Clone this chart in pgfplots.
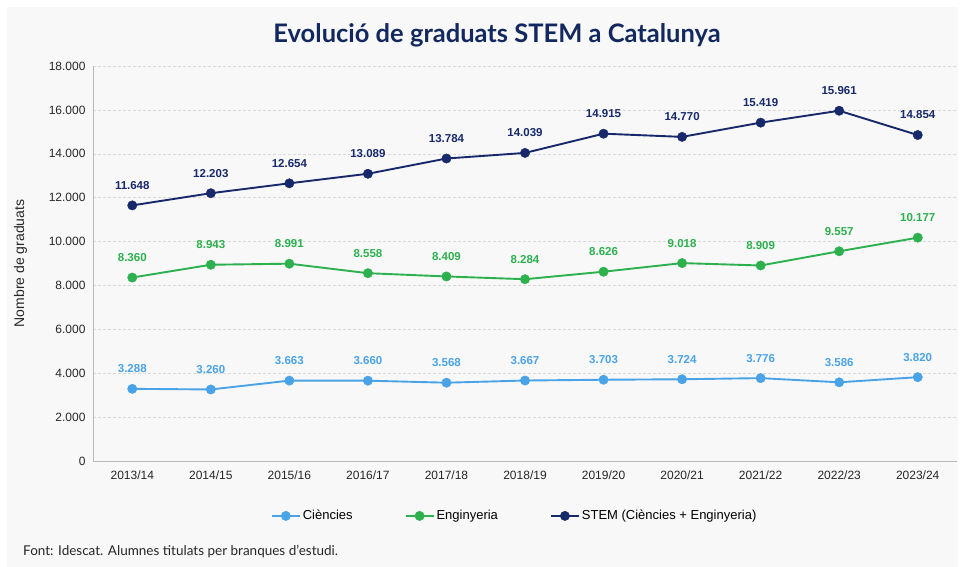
\documentclass[border=0pt]{standalone}
\usepackage{pgfplots}
\pgfplotsset{compat=1.18}
\usepackage{fontspec}
\setmainfont{Liberation Sans}
\newfontfamily\titlefont{Lato}
\definecolor{bgc}{HTML}{F8F8F8}
\definecolor{cien}{HTML}{4AA3E6}
\definecolor{engi}{HTML}{2DB04E}
\definecolor{stem}{HTML}{17296A}
\definecolor{ttl}{HTML}{13285E}
\begin{document}
\begin{tikzpicture}[x=1pt,y=1pt]
\fill[white] (0,0) rectangle (963,567);
\fill[bgc] (7,0) rectangle (958,560);
\begin{axis}[
  at={(93pt,106pt)}, anchor=south west,
  scale only axis, width=864pt, height=395pt,
  xmin=-0.5, xmax=10.5, ymin=0, ymax=18000,
  xtick={0,...,10},
  xticklabels={2013/14,2014/15,2015/16,2016/17,2017/18,2018/19,2019/20,2020/21,2021/22,2022/23,2023/24},
  ytick={0,2000,...,18000},
  scaled y ticks=false,
  yticklabel style={/pgf/number format/fixed, /pgf/number format/precision=0},
  axis lines*=left,
  axis line style={gray!55, line width=0.8pt},
  major tick length=0pt,
  ymajorgrids,
  major grid style={densely dashed, gray!30, line width=0.5pt},
  /pgf/number format/1000 sep={.},
  /pgf/number format/assume math mode=true,
  ticklabel style={font=\fontsize{12}{14}\selectfont, text=black!85},
  xticklabel style={yshift=-6pt},
  yticklabel style={xshift=-4pt},
  ylabel={Nombre de graduats},
  every axis y label/.style={at={(axis description cs:-0.084,0.5)}, rotate=90, anchor=center, font=\fontsize{14}{16}\selectfont, text=black!85},
  nodes near coords,
  nodes near coords style={font=\bfseries\fontsize{11.5}{13}\selectfont, anchor=center, yshift=20pt},
  legend columns=3,
  legend style={at={(0.488,-0.139)}, anchor=center, draw=none, fill=none,
    font=\fontsize{13}{15}\selectfont,
    /tikz/every even column/.append style={column sep=50pt}},
  legend image code/.code={\draw[mark repeat=2,mark phase=2] plot coordinates {(0pt,0pt) (14pt,0pt) (28pt,0pt)};},
]
\addplot[color=cien, line width=1.9pt, mark=*, mark size=4.7pt, mark options={line width=0.4pt}, nodes near coords style={text=cien}] coordinates {
(0,3288) (1,3260) (2,3663) (3,3660) (4,3568) (5,3667) (6,3703) (7,3724) (8,3776) (9,3586) (10,3820)};
\addlegendentry{Ciències}
\addplot[color=engi, line width=1.9pt, mark=*, mark size=4.7pt, mark options={line width=0.4pt}, nodes near coords style={text=engi}] coordinates {
(0,8360) (1,8943) (2,8991) (3,8558) (4,8409) (5,8284) (6,8626) (7,9018) (8,8909) (9,9557) (10,10177)};
\addlegendentry{Enginyeria}
\addplot[color=stem, line width=1.9pt, mark=*, mark size=4.7pt, mark options={line width=0.4pt}, nodes near coords style={text=stem}] coordinates {
(0,11648) (1,12203) (2,12654) (3,13089) (4,13784) (5,14039) (6,14915) (7,14770) (8,15419) (9,15961) (10,14854)};
\addlegendentry{STEM (Ciències + Enginyeria)}
\end{axis}
\node[font=\titlefont\bfseries\fontsize{25.5}{30}\selectfont, text=ttl] at (497,532) {Evolució de graduats STEM a Catalunya};
\node[anchor=west, font=\titlefont\fontsize{13.5}{16}\selectfont, text=black!85, inner sep=0] at (23,16) {Font: Idescat. Alumnes titulats per branques d’estudi.};
\end{tikzpicture}
\end{document}
